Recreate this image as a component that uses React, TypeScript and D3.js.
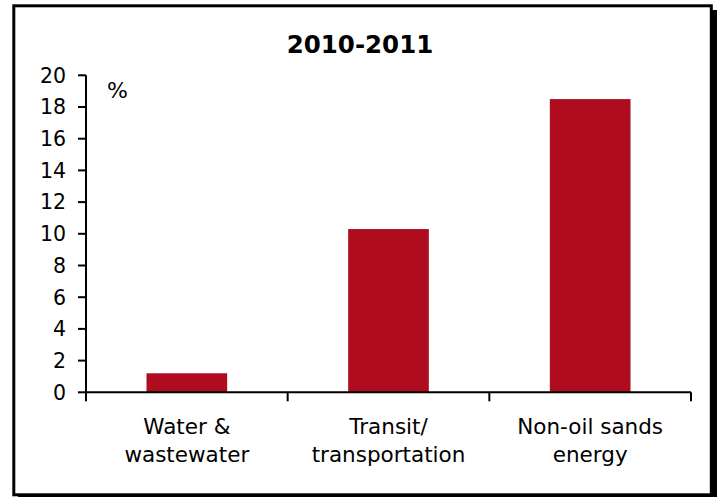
import React from "react";
import * as d3 from "d3";

const categories: string[][] = [
  ["Water &", "wastewater"],
  ["Transit/", "transportation"],
  ["Non-oil sands", "energy"],
];
const values: number[] = [1.2, 10.3, 18.5];
const yTicks: number[] = [0, 2, 4, 6, 8, 10, 12, 14, 16, 18, 20];
const title = "2010-2011";
const unitLabel = "%";

const W = 719;
const H = 497;
const FONT = "Verdana, 'DejaVu Sans', sans-serif";

export default function App() {
  const x0 = 86;
  const x1 = 691;
  const yBottom = 392.3;
  const yTop = 75.3;

  const x = d3
    .scaleBand<number>()
    .domain(categories.map((_, i) => i))
    .range([x0, x1])
    .paddingInner(0.6)
    .paddingOuter(0.3);
  const band = d3.scaleBand<number>().domain(categories.map((_, i) => i)).range([x0, x1]);
  const y = d3.scaleLinear().domain([0, 20]).range([yBottom, yTop]);

  const bounds = [x0, ...categories.map((_, i) => (band(i) as number) + band.bandwidth())];

  return (
    <svg
      width={W}
      height={H}
      style={{ position: "absolute", left: 0, top: 0, background: "#fff" }}
      fontFamily={FONT}
    >
      <rect x={0} y={0} width={W} height={H} fill="#fff" />
      {/* shadow */}
      <rect x={712} y={10} width={5} height={490} fill="#000" />
      <rect x={18} y={495} width={699} height={5} fill="#000" />
      {/* frame */}
      <rect x={13.8} y={5.8} width={697.5} height={489} fill="#fff" stroke="#000" strokeWidth={3} />

      <text x={360} y={53} textAnchor="middle" fontSize={24.5} fontWeight="bold" fill="#000">
        {title}
      </text>

      {/* bars */}
      {values.map((v, i) => (
        <rect
          key={i}
          x={x(i)}
          y={y(v)}
          width={x.bandwidth()}
          height={y(0) - y(v)}
          fill="#AF0C1F"
        />
      ))}

      {/* y axis */}
      <line x1={x0} x2={x0} y1={yTop} y2={yBottom} stroke="#000" strokeWidth={2} />
      {yTicks.map((t) => (
        <g key={t}>
          <line x1={x0 - 8} x2={x0} y1={y(t)} y2={y(t)} stroke="#000" strokeWidth={2} />
          <text x={66} y={y(t)} dy="0.36em" textAnchor="end" fontSize={20.5} fill="#000">
            {t}
          </text>
        </g>
      ))}
      <text x={107} y={98} fontSize={22} fill="#000">
        {unitLabel}
      </text>

      {/* x axis */}
      <line x1={x0} x2={x1} y1={yBottom} y2={yBottom} stroke="#000" strokeWidth={2} />
      {bounds.map((b, i) => (
        <line key={i} x1={b} x2={b} y1={yBottom} y2={yBottom + 9} stroke="#000" strokeWidth={2} />
      ))}
      {categories.map((lines, i) => (
        <text
          key={i}
          x={(band(i) as number) + band.bandwidth() / 2}
          y={434}
          textAnchor="middle"
          fontSize={21.5}
          fill="#000"
        >
          {lines.map((l, j) => (
            <tspan key={j} x={(band(i) as number) + band.bandwidth() / 2} y={434 + j * 28}>
              {l}
            </tspan>
          ))}
        </text>
      ))}
    </svg>
  );
}
